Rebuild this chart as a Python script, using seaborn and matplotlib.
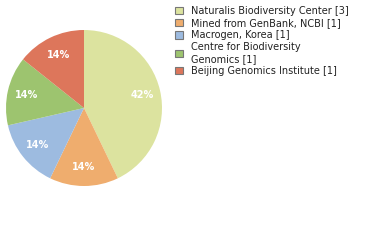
import matplotlib
matplotlib.use('Agg')
import matplotlib.pyplot as plt
import seaborn as sns

# data
labels = ['Naturalis Biodiversity Center [3]', 'Mined from GenBank, NCBI [1]',
          'Macrogen, Korea [1]', 'Centre for Biodiversity\nGenomics [1]',
          'Beijing Genomics Institute [1]']
counts = [3, 1, 1, 1, 1]
colors = sns.color_palette(['#dce39f', '#efad6e', '#9dbbe0', '#9dc46f', '#dd765b'])

sns.set_style('white')
plt.rcParams['font.family'] = ['DejaVu Sans']

fig = plt.figure(figsize=(3.8, 2.4), dpi=100)
ax = fig.add_axes([6 / 380, 54 / 240, 156 / 380, 156 / 240])

wedges, texts, autotexts = ax.pie(
    counts, colors=colors, startangle=90, counterclock=False,
    autopct=lambda p: f'{int(p)}%', pctdistance=0.76,
    wedgeprops={'linewidth': 0}, textprops={'color': 'white', 'fontsize': 7, 'fontweight': 'bold'})
ax.set_xlim(-1, 1)
ax.set_ylim(-1, 1)
ax.set_aspect('equal')

leg = fig.legend(wedges, labels, loc='upper left', bbox_to_anchor=(171 / 380, 1 - 2 / 240),
                 frameon=False, fontsize=7, handlelength=0.8, handleheight=0.8,
                 handletextpad=0.9, labelspacing=0.22, borderaxespad=0, labelcolor='#222222')
for h in leg.legend_handles:
    h.set_edgecolor('#777777')
    h.set_linewidth(0.8)
# extra gap before the last entry, as in the reference
leg.get_texts()[-1].set_y(leg.get_texts()[-1].get_position()[1])

plt.savefig('out.png', dpi=100)
